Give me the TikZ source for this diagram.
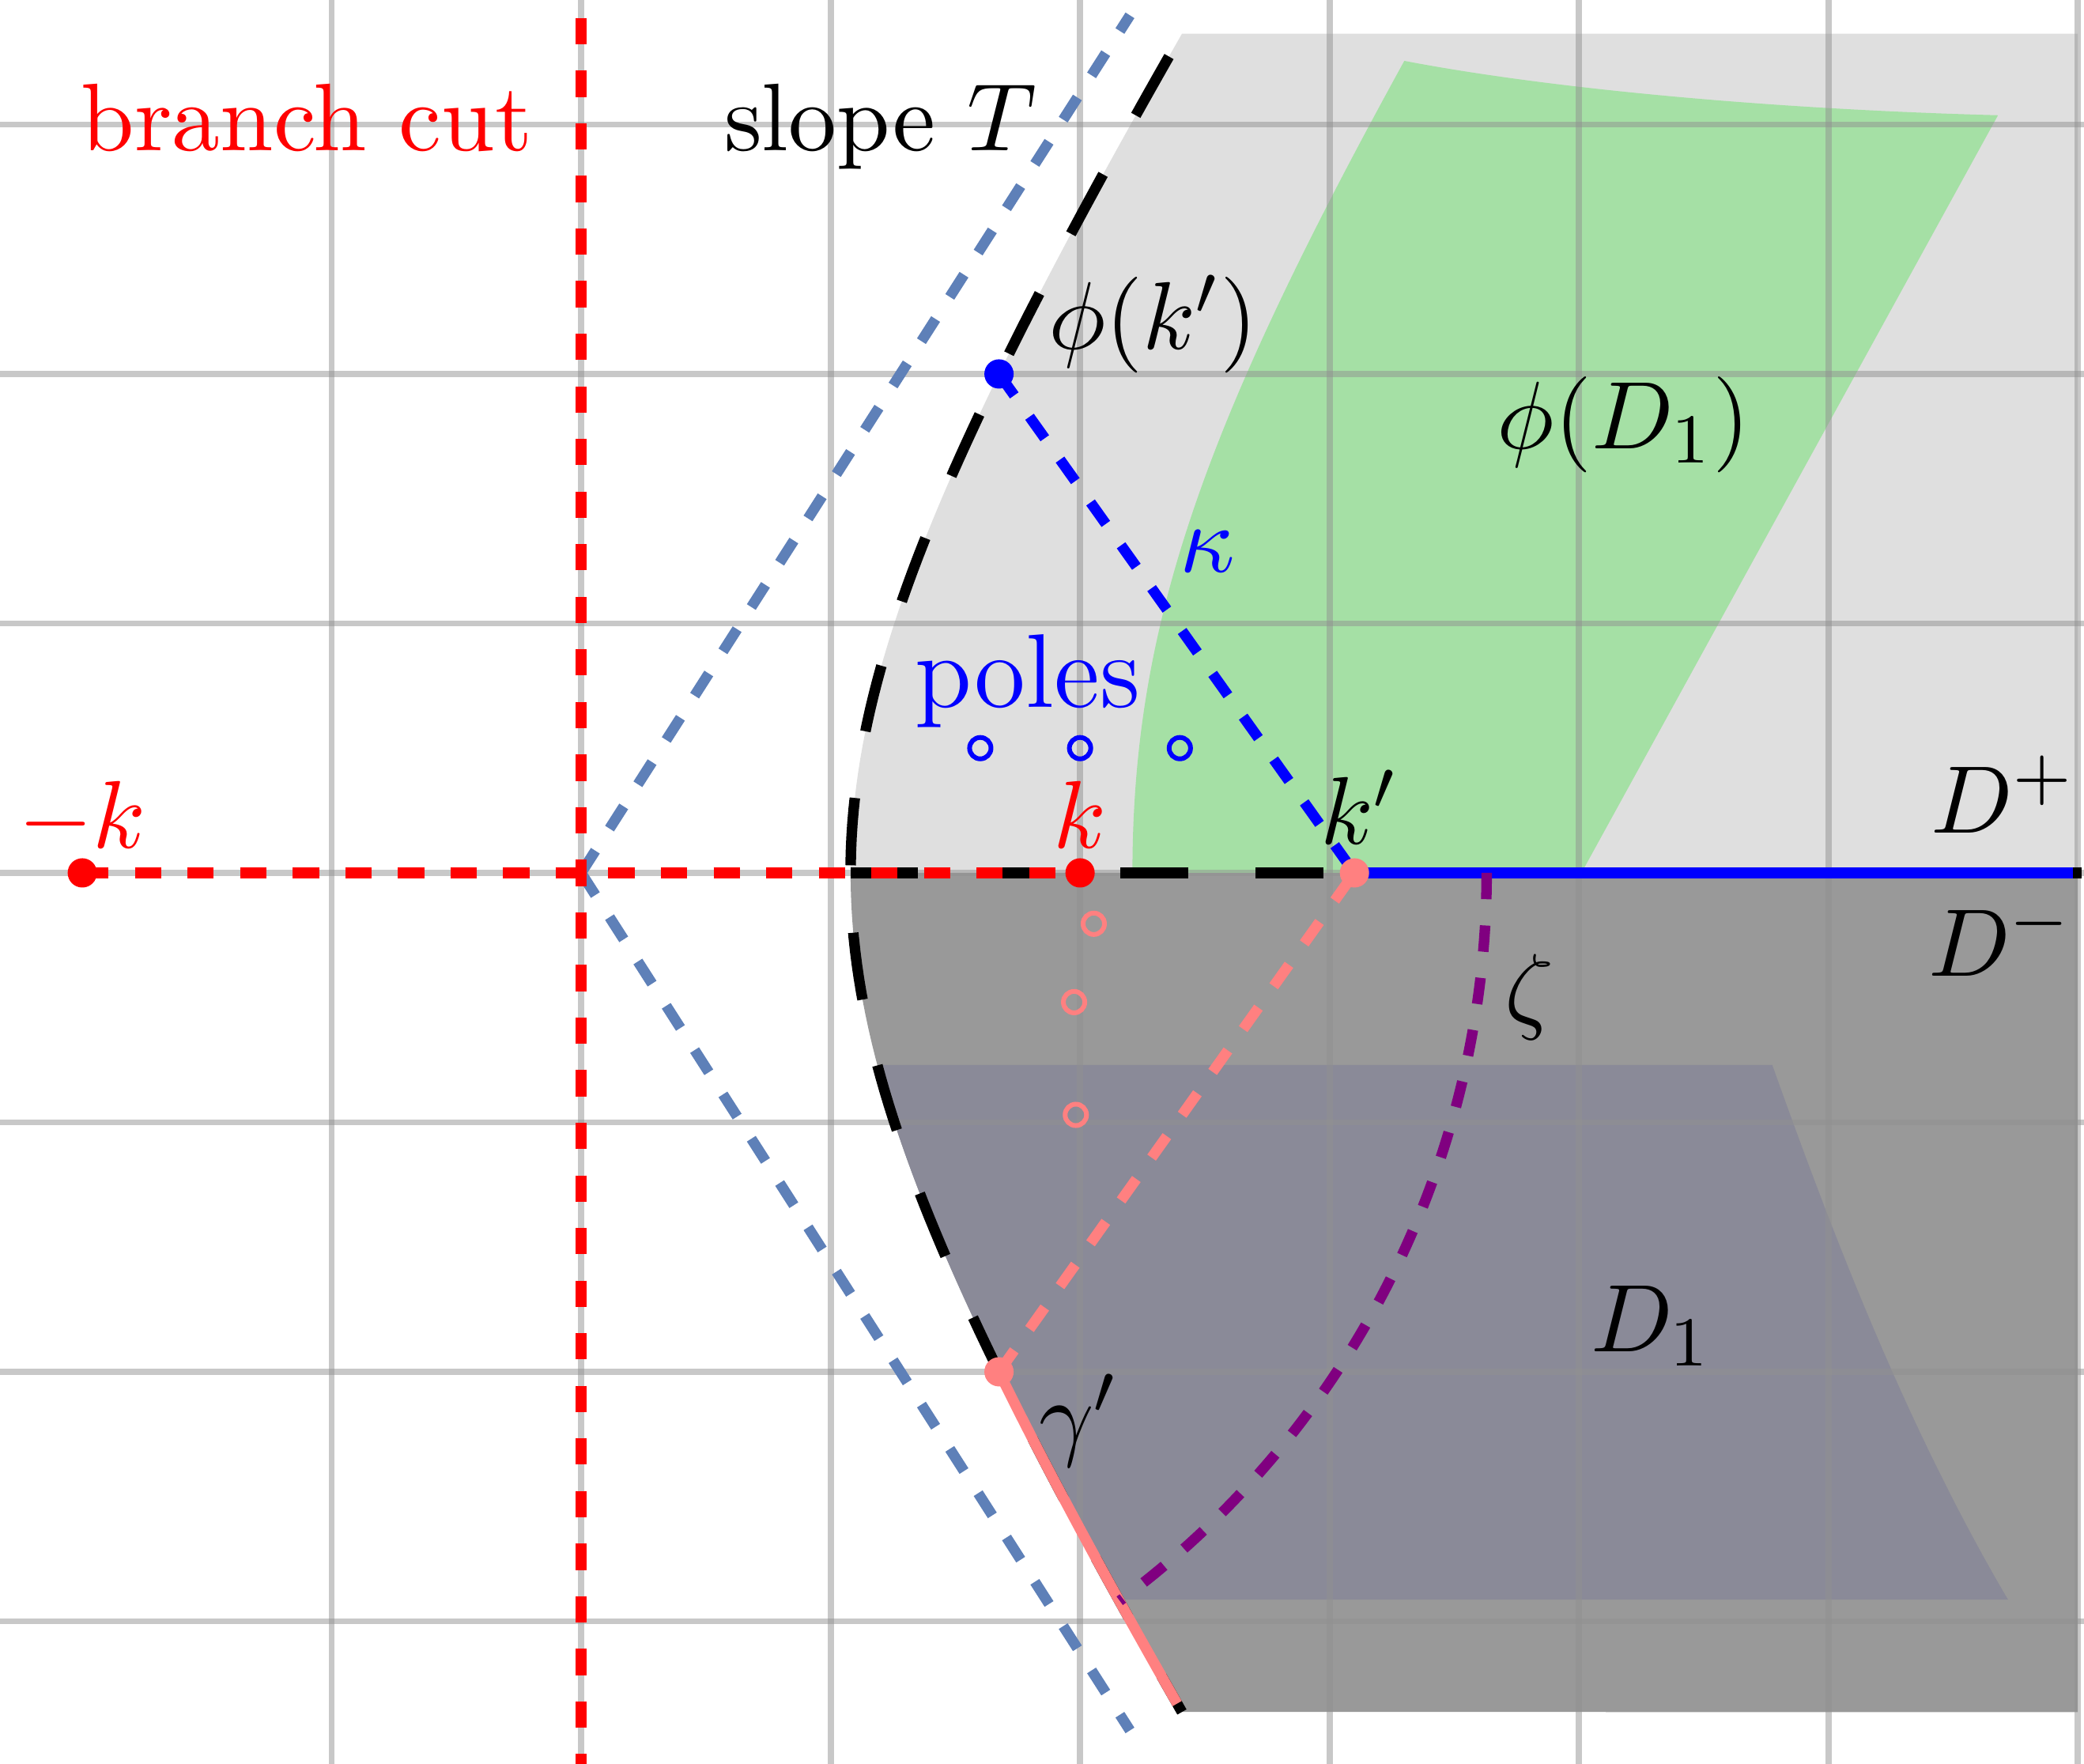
\documentclass[tikz,border=0pt]{standalone}
\definecolor{mistgray}{RGB}{223,223,223}
\definecolor{ashgray}{RGB}{153,153,153}
\definecolor{mintgreen}{RGB}{165,224,165}
\definecolor{duskslate}{RGB}{138,138,152}
\definecolor{steelblue}{RGB}{94,128,184}
\definecolor{coral}{RGB}{255,128,128}
\definecolor{plum}{RGB}{128,0,128}
\newcommand{\hypx}[1]{sqrt(1.1664+(#1/1.5625)^2)}

\begin{document}
\begin{tikzpicture}[font=\fontsize{10.95}{13}\selectfont,
    gridline/.style={black!43, opacity=0.5, line width=0.7pt},
    colordash/.style={line width=1.2pt, dashed},
    longdash/.style={black, line width=1.2pt, dash pattern=on 7.7pt off 7.7pt},
    polering/.style={line width=0.54pt}]
  \useasboundingbox (-2.33,-3.572) rectangle (6.025,3.499);

  \coordinate (O)       at ( 0.000, 0.000);
  \coordinate (mk)      at (-2.000, 0.000);
  \coordinate (k)       at ( 2.000, 0.000);
  \coordinate (kp)      at ( 3.100, 0.000);
  \coordinate (phik)    at ( 1.675, 2.000);
  \coordinate (gam)     at ( 1.675,-2.000);
  \coordinate (vtx)     at ( 1.080, 0.000);
  \coordinate (axend)   at ( 6.015, 0.000);
  \coordinate (blueend) at ( 5.980, 0.000);
  \coordinate (cuttop)  at ( 0.000, 3.500);
  \coordinate (cutbot)  at ( 0.000,-3.580);
  \coordinate (slopeup) at ( 2.200, 3.4375);
  \coordinate (slopedn) at ( 2.200,-3.4375);
  \coordinate (zetatop) at ( 3.630, 0.000);

  \fill[mistgray]  plot[variable=\t, domain=3.364:0,  samples=60] ({\hypx{\t}},\t) -- (6,0) -- (6,3.364) -- cycle;
  \fill[ashgray]   plot[variable=\t, domain=0:-3.364, samples=60] ({\hypx{\t}},\t) -- (6,-3.364) -- (6,0) -- cycle;
  \fill[mintgreen] (2.21,0) .. controls (2.21,1.0) and (2.5,1.8) .. (3.30,3.255)
                   .. controls (3.9,3.14) and (4.8,3.06) .. (5.68,3.037) -- (4.01,0) -- cycle;
  \fill[duskslate] plot[variable=\t, domain=-0.77:-2.913, samples=40] ({\hypx{\t}},\t) -- (5.72,-2.913)
                   .. controls (5.3,-2.2) and (5.0,-1.4) .. (4.775,-0.77) -- cycle;

  \foreach \x in {-1,...,6} \draw[gridline] (\x,-3.572) -- (\x,3.499);
  \foreach \y in {-3,...,3} \draw[gridline] (-2.33,\y) -- (6.025,\y);

  \draw[colordash, steelblue] (O) -- (slopeup) (O) -- (slopedn);
  \draw[longdash, dash phase=12.4pt] plot[variable=\t, domain=3.364:-3.364, samples=120] ({\hypx{\t}},\t);
  \draw[longdash] (vtx) -- (axend);
  \draw[colordash, red] (mk) -- (k);
  \draw[colordash, red, dash phase=1.5pt] (O) -- (cuttop) (O) -- (cutbot);
  \draw[colordash, blue] (phik) -- (kp);
  \draw[blue, line width=1.2pt] (kp) -- (blueend);
  \draw[colordash, coral] (gam) -- (kp);
  \draw[coral, line width=1.2pt] plot[variable=\t, domain=-2:-3.33, samples=20] ({\hypx{\t}},\t);
  \draw[colordash, plum] (zetatop) arc[start angle=0, end angle=-53.5, radius=3.63];

  \foreach \x in {1.6,2.0,2.4} \draw[blue, polering] (\x,0.5) circle (1.22pt);
  \foreach \p in {(2.055,-0.204),(1.976,-0.518),(1.983,-0.97)} \draw[coral, polering] \p circle (1.22pt);

  \fill[red]   (mk)   circle (1.67pt);
  \fill[red]   (k)    circle (1.67pt);
  \fill[coral] (kp)   circle (1.67pt);
  \fill[coral] (gam)  circle (1.67pt);
  \fill[blue]  (phik) circle (1.67pt);

  \node[red, anchor=base]  (cutlabel)   at (-1.100, 2.895) {branch cut};
  \node[anchor=base]       (slopelabel) at ( 1.200, 2.895) {slope $T$};
  \node[blue, anchor=base, font=\fontsize{11.95}{14}\selectfont]
                           (poleslabel) at ( 1.790, 0.664) {poles};
  \node[red, anchor=base]  (mklabel)    at (-2.000, 0.100) {$-k$};
  \node[red, anchor=base]  (klabel)     at ( 2.000, 0.100) {$k$};
  \node[anchor=base]       (kplabel)    at ( 3.120, 0.115) {$k'$};
  \node[anchor=base]       (phiklabel)  at ( 2.293, 2.100) {$\phi(k')$};
  \node[blue]              (kappalabel) at ( 2.510, 1.290) {$\kappa$};
  \node[anchor=base]       (phidlabel)  at ( 4.180, 1.700) {$\phi(D_1)$};
  \node[anchor=base]       (dplus)      at ( 5.700, 0.160) {$D^+$};
  \node[anchor=base]       (dminus)     at ( 5.690,-0.415) {$D^-$};
  \node                    (zetalabel)  at ( 3.800,-0.497) {$\zeta$};
  \node                    (gammalabel) at ( 1.995,-2.195) {$\gamma'$};
  \node[anchor=base]       (donelabel)  at ( 4.290,-1.920) {$D_1$};
\end{tikzpicture}
\end{document}
